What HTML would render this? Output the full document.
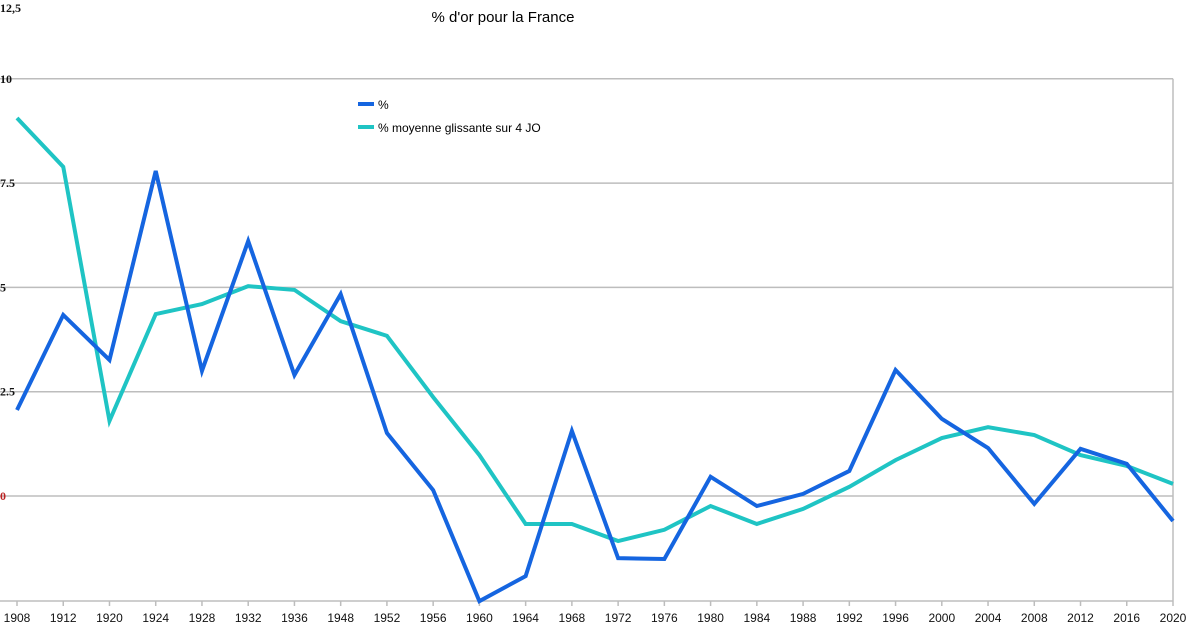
<!DOCTYPE html>
<html><head><meta charset="utf-8">
<style>
body{margin:0;background:#fff;}
svg{display:block;font-family:"Liberation Sans",sans-serif;}
</style></head>
<body>
<svg id="chart" width="1196" height="625" viewBox="0 0 1196 625">
<text x="503" y="22" font-size="15" text-anchor="middle" fill="#000">% d'or pour la France</text>
<g id="grid"></g>
<g id="yaxis"></g>
<g id="xaxis"></g>
<g id="series"></g>
<g>
<line x1="358" y1="104" x2="374" y2="104" stroke="#1565e0" stroke-width="4"/>
<text x="378" y="109" font-size="12">%</text>
<line x1="358" y1="127" x2="374" y2="127" stroke="#1fc4c4" stroke-width="4"/>
<text x="378" y="132" font-size="12">% moyenne glissante sur 4 JO</text>
</g>
</svg>
<script>
const years = ["1908","1912","1920","1924","1928","1932","1936","1948","1952","1956","1960","1964","1968","1972","1976","1980","1984","1988","1992","1996","2000","2004","2008","2012","2016","2020"];
const pct = [2.06,4.34,3.26,7.79,3.0,6.11,2.9,4.84,1.51,0.14,-2.52,-1.92,1.56,-1.49,-1.51,0.46,-0.24,0.05,0.6,3.02,1.85,1.15,-0.19,1.13,0.77,-0.6];
const avg = [9.06,7.89,1.8,4.36,4.6,5.03,4.94,4.19,3.84,2.37,0.98,-0.67,-0.67,-1.08,-0.81,-0.24,-0.67,-0.31,0.22,0.86,1.39,1.65,1.46,0.98,0.72,0.29];
const yTicks = [0,2.5,5,7.5,10];
const yTickLabels = ["0","2.5","5","7.5","10"];
const NS="http://www.w3.org/2000/svg";
const x0=17,x1=1173;
function xs(i){return x0+i*(x1-x0)/(years.length-1);}
function ys(v){return 496-v*104.3/2.5;}
function mk(tag,attrs,parent){const e=document.createElementNS(NS,tag);for(const k in attrs)e.setAttribute(k,attrs[k]);parent.appendChild(e);return e;}
const grid=document.getElementById('grid'),ya=document.getElementById('yaxis'),xa=document.getElementById('xaxis'),se=document.getElementById('series');
yTicks.forEach((t,i)=>{
  const y=ys(t);
  const l=mk('line',{x1:0,x2:x1,y1:y,y2:y,stroke:'#bdbdbd','stroke-width':1.5},grid);
  
  
  const tx=mk('text',{x:0,y:y+4,'font-size':12,'font-weight':'bold','font-family':'"Liberation Serif",serif',fill:t===0?'#b22':'#111'},ya);
  tx.textContent=yTickLabels[i];
  
  
});
const topLabel=mk('text',{x:0,y:12,'font-size':12,'font-weight':'bold','font-family':'"Liberation Serif",serif',fill:'#111'},ya);
topLabel.textContent='12,5';


const ax=mk('line',{x1:0,x2:x1,y1:601,y2:601,stroke:'#bdbdbd','stroke-width':1.5},xa);


const rb=mk('line',{x1:x1,x2:x1,y1:ys(10),y2:601,stroke:'#bdbdbd','stroke-width':1.5},xa);


years.forEach((yr,i)=>{
  const x=xs(i);
  const tk=mk('line',{x1:x,x2:x,y1:601,y2:606,stroke:'#bdbdbd','stroke-width':1.5},xa);
  
  
  const t=mk('text',{x:x,y:622,'font-size':12,'text-anchor':'middle',fill:'#111'},xa);
  t.textContent=yr;
  
  
});
function line(vals,color,name){
  const p=mk('polyline',{points:vals.map((v,i)=>xs(i)+','+ys(v)).join(' '),fill:'none',stroke:color,'stroke-width':4,'stroke-linejoin':'miter'},se);
  
  
}
line(avg,'#1fc4c4','series-moving-average');
line(pct,'#1565e0','series-percent');
</script>
</body></html>
